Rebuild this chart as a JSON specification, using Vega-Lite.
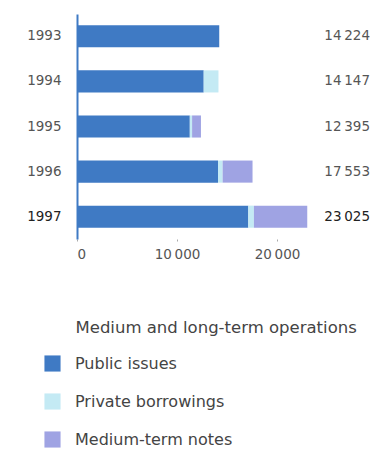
{
  "$schema": "https://vega.github.io/schema/vega-lite/v6.json",
  "autosize": {"type": "none"},
  "padding": {"left": 77, "top": 14, "right": 3, "bottom": 215},
  "width": 293,
  "height": 225,
  "background": "white",
  "config": {
    "view": {"stroke": null},
    "font": "DejaVu Sans",
    "locale": {"number": {"decimal": ".", "thousands": "\u2009", "grouping": [3], "currency": ["", ""]}}
  },
  "datasets": {
    "parts": [
      {"year": "1993", "type": "Public issues", "k": 1, "amount": 14224},
      {"year": "1994", "type": "Public issues", "k": 1, "amount": 12670},
      {"year": "1994", "type": "Private borrowings", "k": 2, "amount": 1477},
      {"year": "1995", "type": "Public issues", "k": 1, "amount": 11280},
      {"year": "1995", "type": "Private borrowings", "k": 2, "amount": 230},
      {"year": "1995", "type": "Medium-term notes", "k": 3, "amount": 885},
      {"year": "1996", "type": "Public issues", "k": 1, "amount": 14100},
      {"year": "1996", "type": "Private borrowings", "k": 2, "amount": 463},
      {"year": "1996", "type": "Medium-term notes", "k": 3, "amount": 2990},
      {"year": "1997", "type": "Public issues", "k": 1, "amount": 17130},
      {"year": "1997", "type": "Private borrowings", "k": 2, "amount": 560},
      {"year": "1997", "type": "Medium-term notes", "k": 3, "amount": 5335}
    ],
    "totals": [
      {"year": "1993", "total": 14224},
      {"year": "1994", "total": 14147},
      {"year": "1995", "total": 12395},
      {"year": "1996", "total": 17553},
      {"year": "1997", "total": 23025}
    ]
  },
  "layer": [
    {
      "data": {"name": "parts"},
      "mark": {"type": "bar"},
      "encoding": {
        "y": {
          "field": "year", "type": "nominal",
          "scale": {"paddingInner": 0.51, "paddingOuter": 0.25},
          "axis": {
            "title": null, "ticks": false, "domainColor": "#3f7ac4", "domainWidth": 2,
            "labelFontSize": 13.5, "labelPadding": 16, "labelFont": "DejaVu Sans",
            "labelColor": {"condition": {"test": "datum.value == '1997'", "value": "#222"}, "value": "#555"}
          }
        },
        "x": {
          "field": "amount", "type": "quantitative", "stack": "zero",
          "scale": {"domain": [0, 29300], "nice": false},
          "axis": {
            "values": [0, 10000, 20000], "format": ",d", "grid": false, "domain": false,
            "tickSize": 2, "tickColor": "#aaa", "tickOffset": 0,
            "labelFontSize": 13.5, "labelColor": "#555", "labelPadding": 6,
            "title": "Medium and long-term operations", "titleAnchor": "start", "titleAlign": "left",
            "titleFontSize": 16.5, "titleFontWeight": "normal", "titleColor": "#444",
            "titleX": -2, "titleY": 80
          }
        },
        "color": {
          "field": "type", "type": "nominal",
          "scale": {
            "domain": ["Public issues", "Private borrowings", "Medium-term notes"],
            "range": ["#3f7ac4", "#c4eaf4", "#9fa3e3"]
          },
          "legend": {
            "orient": "none", "legendX": -33, "legendY": 341, "title": null,
            "direction": "vertical",
            "symbolType": "square", "symbolSize": 260, "symbolStrokeWidth": 0,
            "labelFontSize": 16, "labelColor": "#444", "labelOffset": 14,
            "rowPadding": 21
          }
        },
        "order": {"field": "k", "type": "quantitative"}
      }
    },
    {
      "data": {"name": "totals"},
      "mark": {"type": "text", "align": "right", "baseline": "middle", "fontSize": 13.5, "font": "DejaVu Sans"},
      "encoding": {
        "y": {"field": "year", "type": "nominal"},
        "x": {"datum": 29300},
        "text": {"field": "total", "type": "quantitative", "format": ",d"},
        "color": {"condition": {"test": "datum.year == '1997'", "value": "#222"}, "value": "#555"}
      }
    }
  ]
}
